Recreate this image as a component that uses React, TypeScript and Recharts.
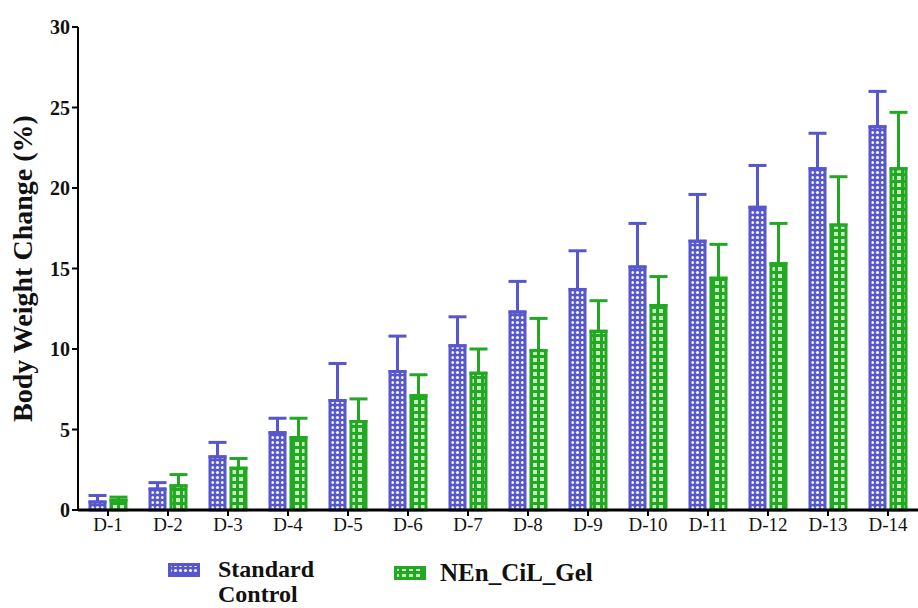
import { BarChart, Bar, XAxis, YAxis, ErrorBar } from "recharts";

// day labels along the x axis
const days = [
  "D-1", "D-2", "D-3", "D-4", "D-5", "D-6", "D-7",
  "D-8", "D-9", "D-10", "D-11", "D-12", "D-13", "D-14",
];

// mean body weight change (%) and upper SD for each group
const controlMean = [0.5, 1.3, 3.3, 4.8, 6.8, 8.6, 10.2, 12.3, 13.7, 15.1, 16.7, 18.8, 21.2, 23.8];
const controlSd = [0.4, 0.4, 0.9, 0.9, 2.3, 2.2, 1.8, 1.9, 2.4, 2.7, 2.9, 2.6, 2.2, 2.2];
const gelMean = [0.6, 1.5, 2.6, 4.5, 5.5, 7.1, 8.5, 9.9, 11.1, 12.7, 14.4, 15.3, 17.7, 21.2];
const gelSd = [0.2, 0.7, 0.6, 1.2, 1.4, 1.3, 1.5, 2.0, 1.9, 1.8, 2.1, 2.5, 3.0, 3.5];

const yTicks = [0, 5, 10, 15, 20, 25, 30];

const seriesNames = ["Standard Control", "NEn_CiL_Gel"];

const BLUE = "#5656cf";
const GREEN = "#23a823";
const FONT = "Liberation Serif, DejaVu Serif, serif";

const data = days.map((day, i) => ({
  day,
  control: controlMean[i],
  controlErr: [0, controlSd[i]],
  gel: gelMean[i],
  gelErr: [0, gelSd[i]],
}));

function Patterns() {
  return (
    <svg width={0} height={0} style={{ position: "absolute" }}>
      <defs>
        <pattern id="blueDots" width={5} height={5} patternUnits="userSpaceOnUse">
          <rect width={5} height={5} fill={BLUE} />
          <circle cx={2.5} cy={2.5} r={1.6} fill="#f4f4ff" />
        </pattern>
        <pattern id="greenChecks" width={7} height={7} patternUnits="userSpaceOnUse">
          <rect width={7} height={7} fill={GREEN} />
          <rect x={1} y={1} width={4} height={4} fill="#c8efbf" />
        </pattern>
      </defs>
    </svg>
  );
}

function LegendSwatch({ fill, stroke }: { fill: string; stroke: string }) {
  return (
    <svg width={32} height={14} style={{ display: "block" }}>
      <rect x={1.5} y={1.5} width={29} height={11} fill={fill} stroke={stroke} strokeWidth={3} />
    </svg>
  );
}

export default function App() {
  return (
    <div style={{ position: "absolute", left: 0, top: 0, width: 918, height: 608, background: "#fff", fontFamily: FONT }}>
      <Patterns />
      <BarChart
        width={918}
        height={608}
        data={data}
        margin={{ top: 27, right: 0, bottom: 68, left: 26 }}
        barSize={15}
        barGap={6}
      >
        <XAxis
          dataKey="day"
          axisLine={{ stroke: "#000", strokeWidth: 3 }}
          tickLine={{ stroke: "#000", strokeWidth: 2 }}
          tickSize={6}
          tick={{ fill: "#111", fontSize: 19, fontFamily: FONT }}
          interval={0}
        />
        <YAxis
          domain={[0, 30]}
          ticks={yTicks}
          width={52}
          axisLine={{ stroke: "#000", strokeWidth: 2 }}
          tickLine={{ stroke: "#000", strokeWidth: 2 }}
          tickSize={6}
          tick={{ fill: "#111", fontSize: 20, fontWeight: "bold", fontFamily: FONT }}
          label={{
            value: "Body Weight Change (%)",
            angle: -90,
            position: "insideLeft",
            offset: -4,
            style: { textAnchor: "middle", fontSize: 28, fontWeight: "bold", fontFamily: FONT, fill: "#111" },
          }}
        />
        <Bar dataKey="control" fill="url(#blueDots)" stroke={BLUE} strokeWidth={3} isAnimationActive={false}>
          <ErrorBar dataKey="controlErr" width={9} stroke={BLUE} strokeWidth={3} direction="y" />
        </Bar>
        <Bar dataKey="gel" fill="url(#greenChecks)" stroke={GREEN} strokeWidth={3} isAnimationActive={false}>
          <ErrorBar dataKey="gelErr" width={9} stroke={GREEN} strokeWidth={3} direction="y" />
        </Bar>
      </BarChart>
      <div style={{ position: "absolute", left: 168, top: 557, display: "flex", alignItems: "flex-start", gap: 18 }}>
        <div style={{ marginTop: 6 }}>
          <LegendSwatch fill="url(#blueDots)" stroke={BLUE} />
        </div>
        <div style={{ fontSize: 24, fontWeight: "bold", lineHeight: "25px", color: "#111", width: 160 }}>
          Standard<br />Control
        </div>
      </div>
      <div style={{ position: "absolute", left: 394, top: 560, display: "flex", alignItems: "flex-start", gap: 14 }}>
        <div style={{ marginTop: 6 }}>
          <LegendSwatch fill="url(#greenChecks)" stroke={GREEN} />
        </div>
        <div style={{ fontSize: 25, fontWeight: "bold", lineHeight: "25px", color: "#111" }}>
          {seriesNames[1]}
        </div>
      </div>
    </div>
  );
}
